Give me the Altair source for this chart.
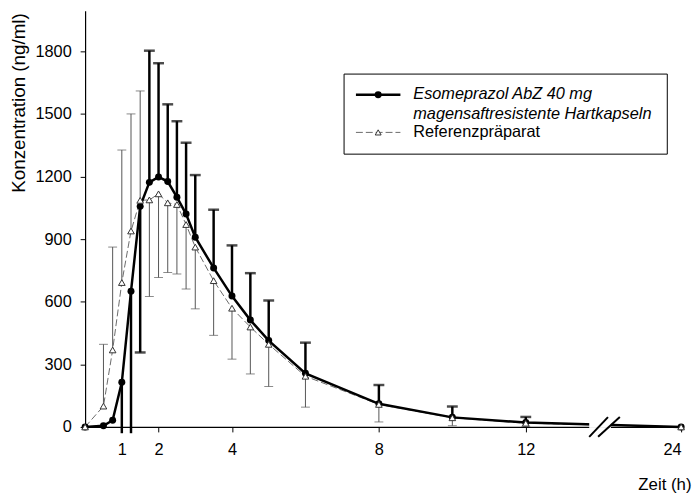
import altair as alt
import pandas as pd

# ---------------- data ----------------
times = [0, 0.5, 0.75, 1, 1.25, 1.5, 1.75, 2, 2.25, 2.5, 2.75, 3, 3.5, 4, 4.5, 5, 6, 8, 10, 12, 24]
eso_mean = [0, 6, 32, 214, 650, 1057, 1172, 1198, 1176, 1101, 1020, 909, 762, 627, 512, 414, 257, 111, 46, 21, 0]
ref_mean = [0, 100, 369, 692, 939, 1086, 1088, 1117, 1074, 1066, 970, 862, 701, 569, 479, 396, 243, 108, 44, 18, 0]
# one-sided SD bars (end value of the bar; None = no bar)
eso_bound = [None, None, None, -30, -30, 357, 1803, 1743, 1546, 1465, 1362, 1207, 1041, 870, 737, 606, 404, 201, 98, 48, None]
ref_bound = [None, 396, 862, 1327, 1500, 1610, 625, 716, 740, 733, 661, 566, 439, 325, 254, 194, 95, 24, 6, 3, None]

x_tick_hours = [1, 2, 4, 8, 12, 24]
y_ticks = [0, 300, 600, 900, 1200, 1500, 1800]

series_names = ["Esomeprazol AbZ 40 mg", "Referenzpräparat"]

# ---------------- layout ----------------
BREAK_AFTER = 12
POS_24 = 16.23          # plotted position of 24 h after the axis break
X_MAX = 16.23
Y_MAX = 1994
W, H = 603, 421
FONT = "Liberation Sans"
FS = 16.5


def xpos(t):
    return t if t <= BREAK_AFTER else POS_24


rows = []
for name, means, bounds in [(series_names[0], eso_mean, eso_bound),
                            (series_names[1], ref_mean, ref_bound)]:
    for t, m, b in zip(times, means, bounds):
        rows.append({"series": name, "t": t, "tp": xpos(t), "mean": m, "bound": b})
df = pd.DataFrame(rows)


def X(field="tp"):
    return alt.X(
        f"{field}:Q",
        scale=alt.Scale(domain=[0, X_MAX], nice=False, zero=False),
        axis=alt.Axis(
            values=[xpos(v) for v in x_tick_hours],
            labelExpr="datum.value > 13 ? '24' : format(datum.value, 'd')",
            grid=False, tickSize=5, labelPadding=10,
            title="Zeit (h)", titleX=613, titleY=58, titleAlign="right",
            titleBaseline="middle", titleAngle=0, titleFontSize=17,
        ),
    )


def Y(field="mean"):
    return alt.Y(
        f"{field}:Q",
        scale=alt.Scale(domain=[0, Y_MAX], nice=False, zero=False),
        axis=alt.Axis(
            values=y_ticks, format="d", grid=False, tickSize=5, labelPadding=9,
            title="Konzentration (ng/ml)", titleX=-67, titleY=2,
            titleAngle=-90, titleAlign="right", titleBaseline="middle",
            titleFontSize=19,
        ),
    )


eso = alt.Chart(df).transform_filter(alt.datum.series == series_names[0])
ref = alt.Chart(df).transform_filter(alt.datum.series == series_names[1])

ref_bars = ref.transform_filter("isValid(datum.bound)").mark_rule(
    color="#555555", strokeWidth=1).encode(x=X(), y=Y(), y2="bound:Q")
ref_caps = ref.transform_filter("isValid(datum.bound) && datum.bound >= 0").mark_tick(
    orient="horizontal", size=9, thickness=1, color="#555555").encode(x=X(), y=Y("bound"))

eso_bars = eso.transform_filter("isValid(datum.bound)").mark_rule(
    color="black", strokeWidth=2.5).encode(x=X(), y=Y(), y2="bound:Q")
eso_caps = eso.transform_filter("isValid(datum.bound) && datum.bound >= 0").mark_tick(
    orient="horizontal", size=11, thickness=2.5, color="black").encode(x=X(), y=Y("bound"))

ref_line = ref.mark_line(color="#6a6a6a", strokeWidth=1, strokeDash=[7, 3]).encode(
    x=X(), y=Y(), order="t:Q")
eso_line = eso.mark_line(color="black", strokeWidth=2.5).encode(
    x=X(), y=Y(), order="t:Q")

eso_pts = eso.mark_point(shape="circle", filled=True, color="black", size=50, opacity=1).encode(
    x=X(), y=Y())
ref_pts = ref.mark_point(shape="triangle-up", filled=True, fill="white", stroke="#333333",
                         strokeWidth=1, size=45, opacity=1).encode(x=X(), y=Y())

# axis break decoration
one = pd.DataFrame({"k": [0]})
brk_gap = alt.Chart(one).mark_rule(color="white", strokeWidth=6).encode(
    x=alt.value(510), x2=alt.value(532), y=alt.value(H - 2))
brk1 = alt.Chart(one).mark_rule(color="black", strokeWidth=2).encode(
    x=alt.value(510), x2=alt.value(529), y=alt.value(H + 10), y2=alt.value(H - 10))
brk2 = alt.Chart(one).mark_rule(color="black", strokeWidth=2).encode(
    x=alt.value(519), x2=alt.value(541), y=alt.value(H + 10), y2=alt.value(H - 10))

# legend (drawn by hand)
leg_box = alt.Chart(one).mark_rect(fill="white", stroke="black", strokeWidth=1).encode(
    x=alt.value(262), x2=alt.value(589), y=alt.value(64), y2=alt.value(145))
leg_l1 = alt.Chart(one).mark_rule(color="black", strokeWidth=2.5).encode(
    x=alt.value(274), x2=alt.value(319), y=alt.value(85))
leg_p1 = alt.Chart(one).mark_point(shape="circle", filled=True, color="black", size=50, opacity=1).encode(
    x=alt.value(296.5), y=alt.value(85))
leg_l2 = alt.Chart(one).mark_rule(color="#6a6a6a", strokeWidth=1, strokeDash=[7, 3]).encode(
    x=alt.value(274), x2=alt.value(319), y=alt.value(123))
leg_p2 = alt.Chart(one).mark_point(shape="triangle-up", filled=True, fill="white", stroke="#333333",
                                   strokeWidth=1, size=36, opacity=1).encode(
    x=alt.value(296.5), y=alt.value(123))
leg_t1 = alt.Chart(one).mark_text(align="left", baseline="middle", font=FONT, fontSize=FS,
                                  fontStyle="italic", color="black").encode(
    x=alt.value(332), y=alt.value(84), text=alt.value(series_names[0]))
leg_t2 = alt.Chart(one).mark_text(align="left", baseline="middle", font=FONT, fontSize=FS,
                                  fontStyle="italic", color="black").encode(
    x=alt.value(332), y=alt.value(104), text=alt.value("magensaftresistente Hartkapseln"))
leg_t3 = alt.Chart(one).mark_text(align="left", baseline="middle", font=FONT, fontSize=FS,
                                  color="black").encode(
    x=alt.value(332), y=alt.value(123), text=alt.value(series_names[1]))

chart = alt.layer(
    ref_bars, ref_caps, eso_bars, eso_caps, ref_line, eso_line, eso_pts, ref_pts,
    brk_gap, brk1, brk2,
    leg_box, leg_l1, leg_p1, leg_l2, leg_p2, leg_t1, leg_t2, leg_t3,
).properties(
    width=W, height=H,
    autosize=alt.AutoSizeParams(type="none"),
    padding={"left": 78, "top": 0, "right": 11, "bottom": 68},
    background="white",
).configure_view(stroke=None).configure_axis(
    domainColor="black", tickColor="black", labelColor="black", titleColor="black",
    labelFont=FONT, titleFont=FONT, labelFontSize=FS,
    titleFontWeight="normal", domainWidth=1.2, tickWidth=1,
)

chart.save("out.html", embed_options={"renderer": "svg", "actions": False})
